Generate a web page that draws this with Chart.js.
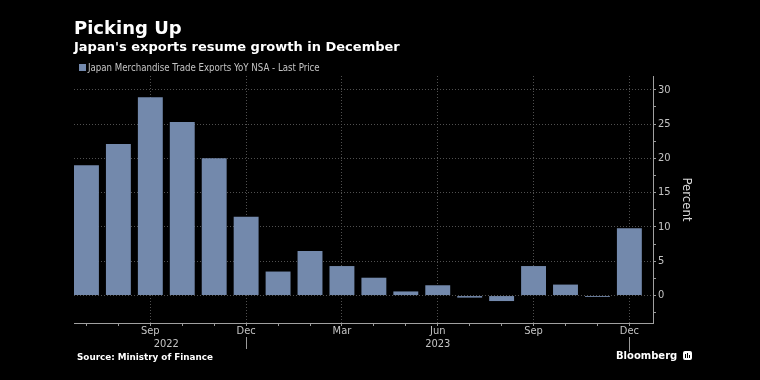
<!DOCTYPE html>
<html><head><meta charset="utf-8">
<script src="https://cdn.jsdelivr.net/npm/chart.js@4/dist/chart.umd.min.js"></script>
<style>
html,body{margin:0;padding:0;background:#000;}
#wrap{position:relative;width:760px;height:380px;background:#000;overflow:hidden;font-family:"DejaVu Sans",sans-serif;}
canvas{position:absolute;left:0;top:0;}
.t{position:absolute;white-space:nowrap;color:#fff;line-height:normal;}
</style></head><body>
<div id="wrap">
<canvas id="c" width="760" height="380"></canvas>
<div class="t" style="left:74px;top:17px;font-weight:bold;font-size:18px;">Picking Up</div>
<div class="t" style="left:74px;top:38.5px;font-weight:bold;font-size:13px;">Japan's exports resume growth in December</div>
<div class="t" style="left:79px;top:61.5px;font-size:9.6px;color:#c4c4c4;font-family:'DejaVu Sans Condensed','DejaVu Sans',sans-serif;"><span style="display:inline-block;width:7px;height:7px;background:#7389ac;margin-right:2px;"></span>Japan Merchandise Trade Exports YoY NSA - Last Price</div>
<div class="t" style="left:77px;top:351.5px;font-weight:bold;font-size:8.8px;">Source: Ministry of Finance</div>
<div class="t" style="left:616px;top:350px;font-weight:bold;font-size:10px;">Bloomberg</div>
<div style="position:absolute;left:683px;top:351px;width:9px;height:9px;background:#fff;border-radius:2px;"><div style="position:absolute;left:2px;top:3px;width:1px;height:4px;background:#000"></div><div style="position:absolute;left:4px;top:2px;width:1px;height:5px;background:#000"></div><div style="position:absolute;left:6px;top:4px;width:1px;height:3px;background:#000"></div></div>
</div>
<script>
const months = ["Jul","Aug","Sep","Oct","Nov","Dec","Jan","Feb","Mar","Apr","May","Jun","Jul","Aug","Sep","Oct","Nov","Dec"];
const exportsYoY = [19.0, 22.1, 28.9, 25.3, 20.0, 11.5, 3.5, 6.5, 4.3, 2.6, 0.6, 1.5, -0.3, -0.8, 4.3, 1.6, -0.2, 9.8];
const labeledMonthIdx = [2, 5, 8, 11, 14, 17];
const yearLabels = ["2022", "2023"];
const yearLabelAt = [2.5, 11];
const yearBreakIdx = [5, 17];
const yTickValues = [-2.5, 0, 2.5, 5, 7.5, 10, 12.5, 15, 17.5, 20, 22.5, 25, 27.5, 30];
const seriesName = "Japan Merchandise Trade Exports YoY NSA - Last Price";

const FONT = '"DejaVu Sans Condensed", "DejaVu Sans", sans-serif';
const TICK_COLOR = '#c4c4c4';
const GRID = '#505050';

const yearPlugin = {
  id: 'years',
  afterDraw(chart) {
    const ctx = chart.ctx, xs = chart.scales.x;
    ctx.save();
    ctx.strokeStyle = '#9a9a9a';
    ctx.lineWidth = 1;
    yearBreakIdx.forEach((i, k) => {
      const px = Math.round(xs.getPixelForValue(i)) + 0.5;
      ctx.beginPath();
      ctx.moveTo(px, 337);
      ctx.lineTo(px, k === yearBreakIdx.length - 1 ? 352 : 349);
      ctx.stroke();
    });
    ctx.fillStyle = TICK_COLOR;
    ctx.font = '11px ' + FONT;
    ctx.textAlign = 'center';
    ctx.textBaseline = 'alphabetic';
    yearLabels.forEach((t, k) => ctx.fillText(t, xs.getPixelForValue(yearLabelAt[k]), 347));
    ctx.restore();
  }
};

new Chart(document.getElementById('c'), {
  type: 'bar',
  data: {
    datasets: [{
      label: seriesName,
      data: exportsYoY.map((v, i) => ({x: i, y: v})),
      backgroundColor: '#7389ac',
      borderWidth: 0,
      barPercentage: 0.78,
      categoryPercentage: 1
    }]
  },
  options: {
    responsive: false,
    animation: false,
    layout: {padding: {left: 74, top: 76, right: 0, bottom: 0}},
    plugins: {legend: {display: false}, tooltip: {enabled: false}},
    scales: {
      x: {
        type: 'linear',
        min: -0.39, max: 17.74,
        offset: false,
        afterBuildTicks: s => { s.ticks = months.map((m, i) => ({value: i})); },
        afterFit: s => { s.height = 57; },
        ticks: {
          autoSkip: false, maxRotation: 0, minRotation: 0,
          color: TICK_COLOR, font: {family: FONT, size: 11}, padding: -1,
          callback: (v, i) => labeledMonthIdx.includes(i) ? months[i] : ''
        },
        grid: {
          offset: false,
          color: c => (c.type === 'tick' && labeledMonthIdx.includes(c.index)) ? GRID : 'rgba(0,0,0,0)',
          tickColor: '#9a9a9a', tickLength: 3, lineWidth: 1
        },
        border: {display: true, color: '#a0a0a0', width: 1, dash: [1, 2]}
      },
      y: {
        position: 'right',
        min: -4, max: 32,
        afterBuildTicks: s => { s.ticks = yTickValues.map(v => ({value: v})); },
        afterFit: s => { s.width = 107; },
        ticks: {
          color: TICK_COLOR, font: {family: FONT, size: 11}, padding: 2,
          callback: v => (v % 5 === 0) ? String(v) : ''
        },
        grid: {
          color: c => (c.type === 'tick' && c.tick && c.tick.value % 5 === 0) ? GRID : 'rgba(0,0,0,0)',
          tickColor: '#9a9a9a', tickLength: 3, lineWidth: 1
        },
        border: {display: true, color: '#a0a0a0', width: 1, dash: [1, 2]},
        title: {display: true, text: 'Percent', color: '#d8d8d8', font: {family: FONT, size: 13}, padding: {top: 66, bottom: 0}}
      }
    }
  },
  plugins: [yearPlugin]
});
</script>
</body></html>
